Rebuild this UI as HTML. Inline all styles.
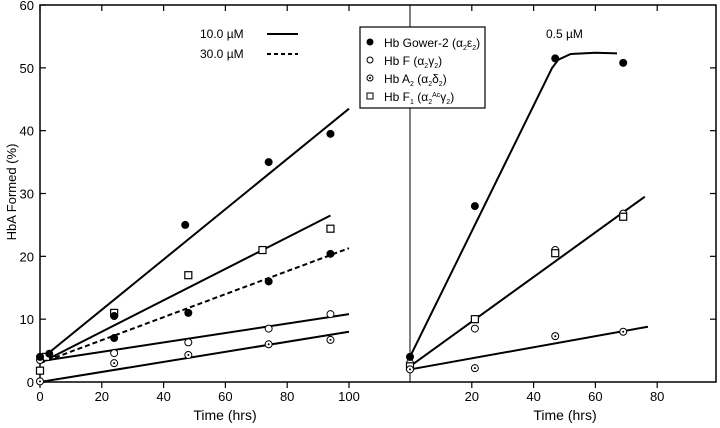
<!DOCTYPE html>
<html><head><meta charset="utf-8"><style>
html,body{margin:0;padding:0;background:#fff}
svg{display:block;font-family:"Liberation Sans",sans-serif}
</style></head><body>
<svg id="c" width="720" height="428" viewBox="0 0 720 428">
<rect x="40" y="5" width="676" height="377" fill="none" stroke="#000" stroke-width="1.5"/>
<line x1="410" y1="5" x2="410" y2="382" stroke="#000" stroke-width="1"/>
<g id="axes"></g><g id="lines"></g><g id="pts"></g>
<text x="16" y="192" font-size="13" text-anchor="middle" transform="rotate(-90 16 192)">HbA Formed (%)</text>
<text x="225" y="420" font-size="14" text-anchor="middle">Time (hrs)</text>
<text x="565" y="420" font-size="14" text-anchor="middle">Time (hrs)</text>
<g>
<text x="200" y="38" font-size="12">10.0 µM</text>
<line x1="267" y1="34" x2="298" y2="34" stroke="#000" stroke-width="2"/>
<text x="200" y="58" font-size="12">30.0 µM</text>
<line x1="267" y1="54" x2="298" y2="54" stroke="#000" stroke-width="2" stroke-dasharray="4,3"/>
</g>
<text x="546" y="38" font-size="12">0.5 µM</text>
<g>
<rect x="360" y="27" width="125" height="81" fill="#fff" stroke="#000" stroke-width="1.2"/>
<circle cx="370" cy="42" r="3.5" fill="#000"/>
<text x="384" y="47" font-size="12">Hb Gower-2 (α<tspan font-size="7" dy="3">2</tspan><tspan dy="-3">ε</tspan><tspan font-size="7" dy="3">2</tspan><tspan dy="-3">)</tspan></text>
<circle cx="370" cy="60" r="3" fill="#fff" stroke="#000"/>
<text x="384" y="65" font-size="12">Hb F (α<tspan font-size="7" dy="3">2</tspan><tspan dy="-3">γ</tspan><tspan font-size="7" dy="3">2</tspan><tspan dy="-3">)</tspan></text>
<circle cx="370" cy="78" r="3" fill="#fff" stroke="#000"/><circle cx="370" cy="78" r="1" fill="#000"/>
<text x="384" y="83" font-size="12">Hb A<tspan font-size="7" dy="3">2</tspan><tspan dy="-3"> (α</tspan><tspan font-size="7" dy="3">2</tspan><tspan dy="-3">δ</tspan><tspan font-size="7" dy="3">2</tspan><tspan dy="-3">)</tspan></text>
<rect x="367" y="93" width="6" height="6" fill="#fff" stroke="#000"/>
<text x="384" y="101" font-size="12">Hb F<tspan font-size="7" dy="3">1</tspan><tspan dy="-3"> (α</tspan><tspan font-size="7" dy="3">2</tspan><tspan font-size="7" dy="-7">Ac</tspan><tspan dy="4">γ</tspan><tspan font-size="7" dy="3">2</tspan><tspan dy="-3">)</tspan></text>
</g>
</svg>
<script>
const yTicks=[0,10,20,30,40,50,60];
const xTicksL=[0,20,40,60,80,100];
const xTicksR=[20,40,60,80];
// left panel (hours, %)
const gowerL=[[0,4],[3,4.5],[24,10.5],[47,25],[74,35],[94,39.5]];
const gower30L=[[24,7],[48,11],[74,16],[94,20.4]];
const f1L=[[0,1.8],[2,4],[24,11],[48,17],[72,21],[94,24.4]];
const hbfL=[[0,3.5],[24,4.6],[48,6.3],[74,8.5],[94,10.8]];
const a2L=[[0,0.1],[24,3],[48,4.3],[74,6],[94,6.7]];
const fitGowerL=[[0,3.5],[100,43.5]];
const fitF1L=[[0,3],[94,26.5]];
const fitGower30L=[[0,3],[100,21.3]];
const fitHbfL=[[0,3.3],[100,10.8]];
const fitA2L=[[0,0],[100,8]];
// right panel
const gowerR=[[0,4],[21,28],[47,51.5],[69,50.8]];
const f1R=[[0,2.5],[21,10],[47,20.5],[69,26.3]];
const hbfR=[[0,3],[21,8.5],[47,21],[69,26.8]];
const a2R=[[0,2],[21,2.2],[47,7.3],[69,8]];
const fitGowerR=[[0,4],[46,50],[48,51.3],[52,52.2],[60,52.4],[67,52.3]];
const fitF1R=[[0,2.5],[76,29.5]];
const fitA2R=[[0,2],[77,8.8]];

const NS='http://www.w3.org/2000/svg';
const Y=v=>382-v*6.283;
const XL=v=>40+v*3.09;
const XR=v=>410+v*3.09;
function mk(t,a,p){const e=document.createElementNS(NS,t);for(const k in a)e.setAttribute(k,a[k]);p.appendChild(e);return e;}
const ax=document.getElementById('axes'),ln=document.getElementById('lines'),pt=document.getElementById('pts');
yTicks.forEach(v=>{
  const l=mk('line',{x1:40,x2:46,y1:Y(v),y2:Y(v),stroke:'#000','stroke-width':1.2},ax);
  
  
  if(v>0&&v<60){const r=mk('line',{x1:710,x2:716,y1:Y(v),y2:Y(v),stroke:'#000','stroke-width':1.2},ax);
  
  }
  const t=mk('text',{x:34,y:Y(v)+5,'font-size':13,'text-anchor':'end'},ax);
  
  
  t.textContent=v;
});
xTicksL.forEach(v=>{
  [[382,388],[5,11]].forEach(([a,b])=>{const l=mk('line',{x1:XL(v),x2:XL(v),y1:a,y2:b,stroke:'#000','stroke-width':1.2},ax);
  
  });
  const t=mk('text',{x:XL(v),y:401,'font-size':13,'text-anchor':'middle'},ax);
  
  
  t.textContent=v;
});
xTicksR.forEach(v=>{
  [[382,388],[5,11]].forEach(([a,b])=>{const l=mk('line',{x1:XR(v),x2:XR(v),y1:a,y2:b,stroke:'#000','stroke-width':1.2},ax);
  
  });
  const t=mk('text',{x:XR(v),y:401,'font-size':13,'text-anchor':'middle'},ax);
  
  
  t.textContent=v;
});
function fit(d,X,name,dash){
  const p=mk('polyline',{points:d.map(q=>X(q[0])+','+Y(q[1])).join(' '),fill:'none',stroke:'#000','stroke-width':2,'stroke-dasharray':dash||'none','stroke-linejoin':'round'},ln);
  
  
}
fit(fitGowerL,XL,'fit-gower2-10um');fit(fitF1L,XL,'fit-hbf1-10um');fit(fitGower30L,XL,'fit-gower2-30um','5,3');
fit(fitHbfL,XL,'fit-hbf-10um');fit(fitA2L,XL,'fit-hba2-10um');
fit(fitGowerR,XR,'fit-gower2-0.5um');fit(fitF1R,XR,'fit-hbf1-0.5um');fit(fitA2R,XR,'fit-hba2-0.5um');
function pts(d,X,kind,name){
  d.forEach(q=>{
    const x=X(q[0]),y=Y(q[1]);let e;
    if(kind==='filled')e=mk('circle',{cx:x,cy:y,r:4,fill:'#000'},pt);
    else if(kind==='open')e=mk('circle',{cx:x,cy:y,r:3.5,fill:'#fff',stroke:'#000','stroke-width':1},pt);
    else if(kind==='dot'){e=mk('circle',{cx:x,cy:y,r:3.5,fill:'#fff',stroke:'#000','stroke-width':1},pt);mk('circle',{cx:x,cy:y,r:1,fill:'#000'},pt);}
    else e=mk('rect',{x:x-3.5,y:y-3.5,width:7,height:7,fill:'#fff',stroke:'#000','stroke-width':1.2},pt);
    
    
  });
}
pts(f1L,XL,'sq','point-hbf1');pts(hbfL,XL,'open','point-hbf');pts(a2L,XL,'dot','point-hba2');
pts(gowerL,XL,'filled','point-gower2');pts(gower30L,XL,'filled','point-gower2-30um');
pts(hbfR,XR,'open','point-hbf');pts(f1R,XR,'sq','point-hbf1');pts(a2R,XR,'dot','point-hba2');pts(gowerR,XR,'filled','point-gower2');
</script>
</body></html>
